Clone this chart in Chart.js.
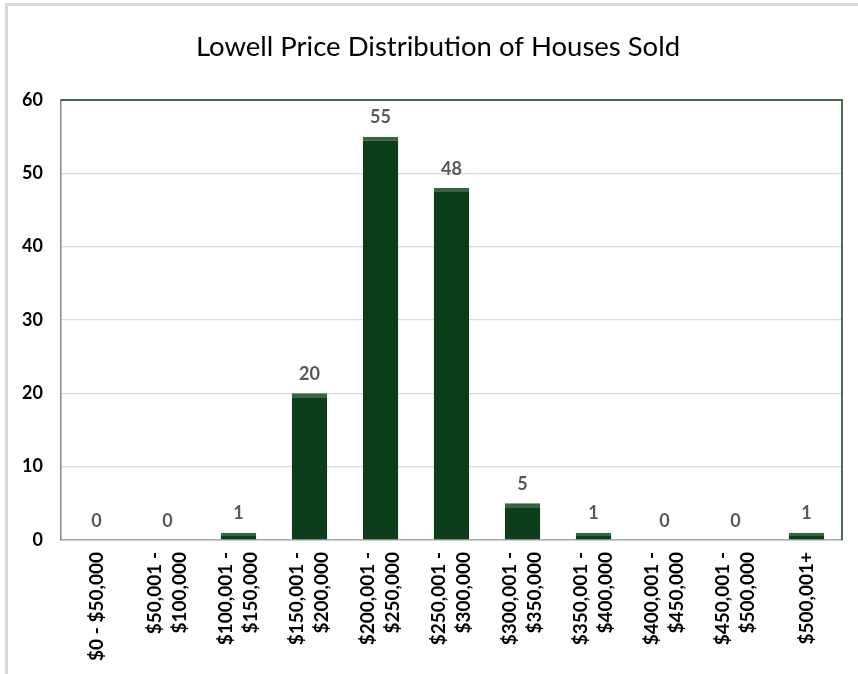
<!DOCTYPE html>
<html>
<head>
<meta charset="utf-8">
<script src="https://cdn.jsdelivr.net/npm/chart.js@4.4.1/dist/chart.umd.min.js"></script>
<style>
  html, body { margin: 0; padding: 0; background: #ffffff; overflow: hidden; width: 858px; height: 674px; }
  #frame {
    position: absolute; left: 5px; top: 3px;
    width: 853px; height: 671px;
    border-left: 3px solid #d9d9d9; border-top: 3px solid #d9d9d9;
    background: #ffffff;
  }
  #wrap { position: absolute; left: 0; top: 0; width: 860px; height: 668px; }
</style>
</head>
<body>
<div id="frame"><div id="wrap"><canvas id="chart"></canvas></div></div>
<script>
// Price bands (two-line labels) and number of houses sold in each band
const priceBands = [
  ['$0 - $50,000'],
  ['$50,001 -', '$100,000'],
  ['$100,001 -', '$150,000'],
  ['$150,001 -', '$200,000'],
  ['$200,001 -', '$250,000'],
  ['$250,001 -', '$300,000'],
  ['$300,001 -', '$350,000'],
  ['$350,001 -', '$400,000'],
  ['$400,001 -', '$450,000'],
  ['$450,001 -', '$500,000'],
  ['$500,001+']
];
const housesSold = [0, 0, 1, 20, 55, 48, 5, 1, 0, 0, 1];
const countTicks = [0, 10, 20, 30, 40, 50, 60];

const FONT = "Lato, 'Open Sans', 'Liberation Sans', sans-serif";
const X_FONT_SIZE = 19;
const X_LINE_HEIGHT = 1.3;

// Value labels above each bar
const valueLabels = {
  id: 'valueLabels',
  afterDatasetsDraw(chart) {
    const ctx = chart.ctx;
    const meta = chart.getDatasetMeta(0);
    ctx.save();
    ctx.font = 'bold 18px ' + FONT;
    ctx.fillStyle = '#595959';
    ctx.textAlign = 'center';
    ctx.textBaseline = 'middle';
    meta.data.forEach((bar, i) => {
      ctx.fillText(String(chart.data.datasets[0].data[i]), bar.x, bar.y - 19);
    });
    ctx.restore();
  }
};

// Dark green frame on the top and right sides of the plot area
const plotFrame = {
  id: 'plotFrame',
  afterDraw(chart) {
    const { ctx, chartArea: a } = chart;
    ctx.save();
    ctx.strokeStyle = '#0d3f1c';
    ctx.lineWidth = 1.5;
    ctx.beginPath();
    ctx.moveTo(a.left, a.top);
    ctx.lineTo(a.right, a.top);
    ctx.lineTo(a.right, a.bottom);
    ctx.stroke();
    ctx.restore();
  }
};

new Chart(document.getElementById('chart'), {
  type: 'bar',
  data: {
    labels: priceBands,
    datasets: [{
      data: housesSold,
      backgroundColor: '#0b3d19',
      borderColor: '#36663f',
      borderWidth: { top: 4, left: 0, right: 0, bottom: 0 },
      borderSkipped: 'bottom',
      categoryPercentage: 1.0,
      barPercentage: 0.5
    }]
  },
  options: {
    responsive: true,
    maintainAspectRatio: false,
    animation: false,
    layout: { padding: 0 },
    plugins: {
      legend: { display: false },
      tooltip: { enabled: false },
      title: {
        display: true,
        text: 'Lowell Price Distribution of Houses Sold',
        color: '#000000',
        font: { family: FONT, size: 27.5, weight: 'normal', lineHeight: 1.2 },
        padding: { top: 25, bottom: 36 }
      }
    },
    scales: {
      x: {
        grid: { display: false, drawTicks: false },
        border: { display: true, color: '#a3aea6', width: 1.5 },
        ticks: {
          color: '#000000',
          font: { family: FONT, size: X_FONT_SIZE, weight: 'bold', lineHeight: X_LINE_HEIGHT },
          minRotation: 90,
          maxRotation: 90,
          autoSkip: false,
          padding: 12,
          // centre two-line labels on their bar; single-line ones keep
          // their place through the (transparent) backdrop branch
          labelOffset: -X_FONT_SIZE * X_LINE_HEIGHT / 2,
          showLabelBackdrop: (c) => priceBands[c.index] && priceBands[c.index].length === 1,
          backdropColor: 'rgba(0,0,0,0)'
        },
        afterFit(scale) { scale.height = 134; }
      },
      y: {
        min: 0,
        max: 60,
        afterBuildTicks(scale) { scale.ticks = countTicks.map(v => ({ value: v })); },
        grid: { color: '#dadada', lineWidth: 1.2, drawTicks: false },
        border: { display: true, color: '#7e8e82', width: 1.5 },
        ticks: {
          color: '#000000',
          font: { family: FONT, size: 18, weight: 'bold' },
          padding: 18
        },
        afterFit(scale) { scale.width = 53; }
      },
      // empty right-hand margin beside the plot
      yMargin: {
        position: 'right',
        min: 0,
        max: 60,
        grid: { display: false, drawTicks: false },
        border: { display: false },
        ticks: { display: false },
        afterFit(scale) { scale.width = 26; }
      }
    }
  },
  plugins: [valueLabels, plotFrame]
});
</script>
</body>
</html>
